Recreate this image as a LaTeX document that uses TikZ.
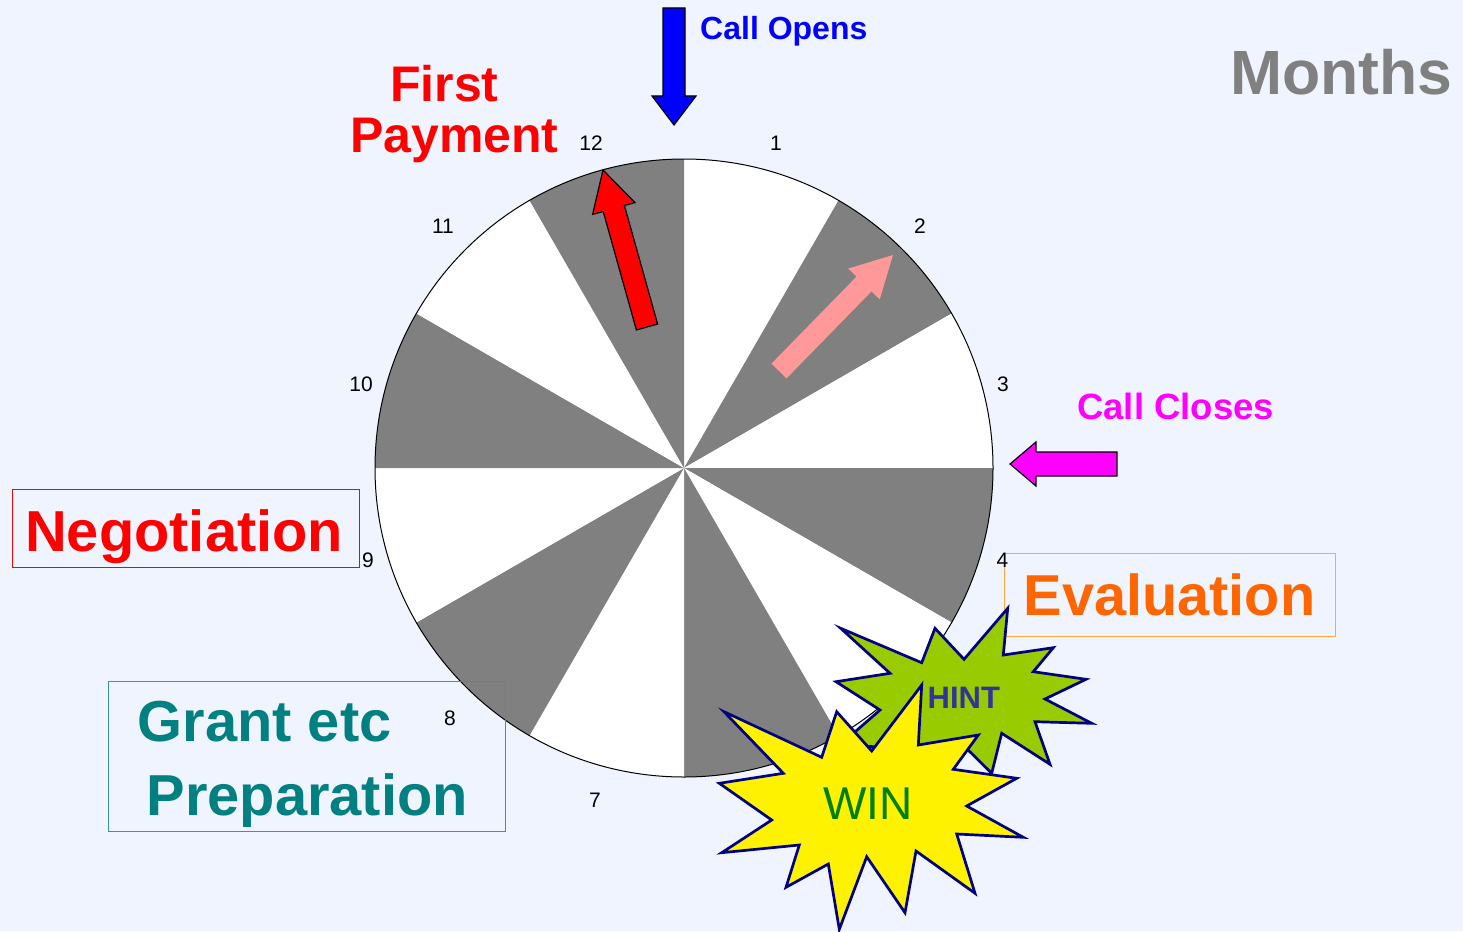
\documentclass[tikz,border=0pt]{standalone}
\usepackage{fontspec}
\setmainfont{Liberation Sans}
\definecolor{bg}{RGB}{240,244,255}
\definecolor{sectorgray}{RGB}{128,128,128}
\definecolor{tealtext}{RGB}{0,128,128}
\definecolor{tealbox}{RGB}{51,153,153}
\definecolor{evalorange}{RGB}{255,102,0}
\definecolor{evalbox}{RGB}{255,170,60}
\definecolor{starline}{RGB}{0,0,128}
\definecolor{hintgreen}{RGB}{153,204,0}
\definecolor{hinttext}{RGB}{51,51,153}
\definecolor{wingreen}{RGB}{0,128,0}
\definecolor{pinkarrow}{RGB}{255,153,153}
\definecolor{magentaarrow}{RGB}{255,0,255}
\definecolor{monthsgray}{RGB}{128,128,128}
\begin{document}
\begin{tikzpicture}[x=1pt,y=-1pt,
  num/.style={font=\fontsize{21}{21}\selectfont, text=black, inner sep=0pt},
  lbl/.style={anchor=base west, inner sep=0pt},
  blockarrow/.style={draw=black, line width=1.2pt, line join=miter},
  burst/.style={draw=starline, line width=2.7pt, line join=miter},
  labelbox/.style={line width=1pt}
]
\useasboundingbox (0,0) rectangle (1463,931);
\fill[bg] (0,0) rectangle (1463,931);

% clock face
\begin{scope}[shift={(684,468)}, yscale=-1]
  \foreach \k in {1,...,12}{
    \pgfmathsetmacro{\s}{90-30*(\k-1)}
    \pgfmathsetmacro{\e}{90-30*\k}
    \pgfmathtruncatemacro{\odd}{mod(\k,2)}
    \ifnum\odd=1
      \fill[white] (0,0) -- (\s:309) arc[start angle=\s, end angle=\e, radius=309] -- cycle;
    \else
      \fill[sectorgray] (0,0) -- (\s:309) arc[start angle=\s, end angle=\e, radius=309] -- cycle;
    \fi
  }
  \draw[black, line width=1pt] (0,0) circle[radius=309];
\end{scope}

% month numbers
\node[num] (m1)  at (776,143) {1};
\node[num] (m2)  at (920,226) {2};
\node[num] (m3)  at (1003,384) {3};
\node[num] (m7)  at (595,800) {7};
\node[num] (m8)  at (450,718) {8};
\node[num] (m9)  at (368,560) {9};
\node[num] (m10) at (361,384) {10};
\node[num] (m11) at (443,226) {11};
\node[num] (m12) at (591,143) {12};

% arrows
\filldraw[blockarrow, fill=blue] (663,8) -- (685,8) -- (685,96) -- (696,96) -- (674,125) -- (652,96) -- (663,96) -- cycle;
\filldraw[blockarrow, fill=magentaarrow] (1117,452) -- (1036,452) -- (1036,442) -- (1010,464) -- (1036,486) -- (1036,476) -- (1117,476) -- cycle;
\filldraw[blockarrow, fill=red] (657.6,324) -- (624.4,205.5) -- (635,202.6) -- (603,170) -- (592.6,214.4) -- (603.2,211.5) -- (636.4,330) -- cycle;
\fill[pinkarrow] (786.5,378.4) -- (871.5,291.4) -- (879.7,299.4) -- (893,255) -- (848.3,268.6) -- (856.5,276.6) -- (771.5,363.6) -- cycle;

% labels
\node[lbl, text=blue, font=\bfseries\fontsize{32}{32}\selectfont] (opens) at (700,40) {Call Opens};
\node[lbl, text=magentaarrow, font=\bfseries\fontsize{36.5}{36.5}\selectfont] (closes) at (1077,419) {Call Closes};
\node[lbl, text=monthsgray, font=\bfseries\fontsize{62.5}{62.5}\selectfont] (months) at (1230,95) {Months};
\node[lbl, text=red, font=\bfseries\fontsize{50}{50}\selectfont] (first) at (390,102) {First};
\node[lbl, text=red, font=\bfseries\fontsize{50}{50}\selectfont] (payment) at (350,152) {Payment};

\draw[labelbox, red] (12,489) rectangle (359,567);
\node[lbl, text=red, font=\bfseries\fontsize{57.8}{57.8}\selectfont] (negotiation) at (25,551) {Negotiation};

\draw[labelbox, tealbox] (108,681) rectangle (505,831);
\node[lbl, text=tealtext, font=\bfseries\fontsize{57.8}{57.8}\selectfont] (grant) at (137.5,741) {Grant etc};
\node[lbl, text=tealtext, font=\bfseries\fontsize{57.8}{57.8}\selectfont] (prep) at (146.5,815) {Preparation};

\draw[labelbox, evalbox] (1004,553) rectangle (1335,636);
\node[lbl, text=evalorange, font=\bfseries\fontsize{57.7}{57.7}\selectfont] (evaluation) at (1023.5,615) {Evaluation};
\node[num] (m4)  at (1002.5,560) {4};

% starbursts
\filldraw[burst, fill=hintgreen] (840.7,628.3) -- (921.7,662.7) -- (935,628.3) -- (964,659.3) -- (1007.7,608.3) -- (1003.3,655) -- (1053.3,647.7) -- (1033.3,671.7) -- (1086,679.3) -- (1045,699) -- (1091.7,723.3) -- (1035,721.7) -- (1050,764.3) -- (1001.7,733.3) -- (991.7,773.3) -- (958,740) -- (920,790) -- (900,748) -- (840,745) -- (880,710) -- (836,681.7) -- (890,673.3) -- cycle;
\node[lbl, text=hinttext, font=\bfseries\fontsize{31}{31}\selectfont] (hint) at (927.5,708.3) {HINT};

\filldraw[burst, fill=yellow] (921.7,685) -- (918.3,745) -- (978.3,735) -- (953.3,769.3) -- (1016.7,778.3) -- (966.7,806) -- (1023.3,837.3) -- (956.7,834) -- (975,893.3) -- (916,851) -- (905,912.7) -- (866.7,856.7) -- (839.3,929.3) -- (828.3,864) -- (786,887.3) -- (799.3,845) -- (721.7,852.7) -- (771.7,820) -- (719.3,783.3) -- (783.3,773.3) -- (724,711.7) -- (821.7,757.3) -- (836.7,711.7) -- (871.7,751) -- cycle;
\node[lbl, text=wingreen, font=\fontsize{46}{46}\selectfont] (win) at (823,819.3) {WIN};
\end{tikzpicture}
\end{document}
